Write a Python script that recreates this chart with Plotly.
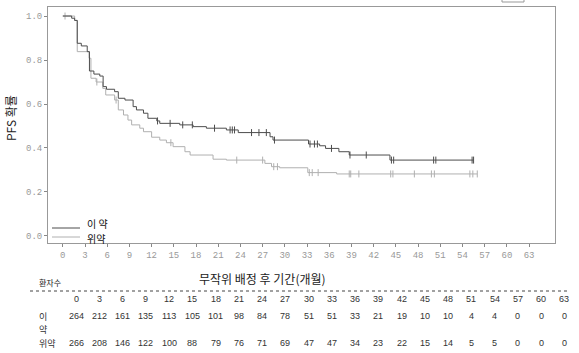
import numpy as np
import plotly.graph_objects as go

# ---- data ----
t_drug = [0, 1.2, 1.6, 1.95, 2.5, 3.3, 3.6, 4.2, 5.0, 5.45, 5.9, 7.0, 7.5, 8.4, 9.5, 9.95, 10.9, 11.5,
          12.7, 13.1, 15.8, 17.6, 19.4, 22.1, 23.7, 28.0, 28.4, 33.2, 34.7, 35.5, 37.3, 38.7, 44.2, 55.5]
s_drug = [1.0, 0.99, 0.98, 0.876, 0.864, 0.838, 0.75, 0.736, 0.727, 0.679, 0.667, 0.656, 0.626, 0.618,
          0.588, 0.573, 0.558, 0.535, 0.523, 0.512, 0.505, 0.497, 0.49, 0.482, 0.47, 0.451, 0.436, 0.418,
          0.41, 0.398, 0.383, 0.368, 0.345, 0.345]
t_plac = [0, 1.6, 1.95, 3.55, 3.8, 4.5, 5.4, 5.8, 7.0, 7.5, 8.2, 8.8, 9.3, 10.4, 10.9, 12.0, 13.1, 14.0,
          14.9, 16.5, 17.2, 20.3, 22.1, 27.3, 28.2, 29.3, 33.1, 37.0, 56.0]
s_plac = [1.0, 0.98, 0.838, 0.808, 0.717, 0.70, 0.671, 0.641, 0.618, 0.573, 0.55, 0.527, 0.505, 0.49,
          0.474, 0.449, 0.436, 0.424, 0.406, 0.383, 0.368, 0.349, 0.345, 0.33, 0.315, 0.31, 0.288, 0.282, 0.282]
cens_drug = [12.8, 14.5, 16.2, 17.5, 20.5, 22.6, 22.9, 23.2, 25.5, 26.5, 27.5, 28.6, 33.4, 34.0, 34.4,
             36.3, 38.8, 41.0, 44.4, 44.7, 50.1, 50.4, 55.3, 55.5]
cens_plac = [0.3, 4.6, 7.2, 14.6, 23.5, 27.0, 28.5, 29.0, 33.3, 33.7, 34.5, 38.7, 38.9, 40.0, 44.3,
             44.6, 47.5, 49.8, 50.2, 55.0, 55.4, 56.0]

months = list(range(0, 64, 3))
risk_drug = [264, 212, 161, 135, 113, 105, 101, 98, 84, 78, 51, 51, 33, 21, 19, 10, 10, 4, 4, 0, 0, 0]
risk_plac = [266, 208, 146, 122, 100, 88, 79, 76, 71, 69, 47, 47, 34, 23, 22, 15, 14, 5, 5, 0, 0, 0]

name_drug = "이 약"
name_plac = "위약"
xtitle = "무작위 배정 후 기간(개월)"
ytitle = "PFS 확률"

DARK = "#4d4d4d"
LIGHT = "#b0b0b0"

W, H = 579, 353
L, R, T, B = 48, 555, 7, 243


def px(x):
    return (x - L) / (R - L)


def py(y):
    return (B - y) / (B - T)


def step_val(ts, ss, t):
    i = np.searchsorted(ts, t, side="right") - 1
    return ss[max(i, 0)]


fig = go.Figure()
for ts, ss, cs, col in [(t_plac, s_plac, cens_plac, LIGHT), (t_drug, s_drug, cens_drug, DARK)]:
    fig.add_trace(go.Scatter(x=ts, y=ss, mode="lines", line=dict(color=col, width=1, shape="hv"),
                             showlegend=False, hoverinfo="skip"))
    fig.add_trace(go.Scatter(x=cs, y=[step_val(ts, ss, c) for c in cs], mode="markers",
                             marker=dict(symbol="line-ns-open", size=5, color=col,
                                         line=dict(color=col, width=1)),
                             showlegend=False, hoverinfo="skip"))

mono = "Liberation Mono, Courier New, monospace"
fig.update_layout(
    width=W, height=H, margin=dict(l=L, r=W - R, t=T, b=H - B),
    paper_bgcolor="white", plot_bgcolor="white",
    font=dict(family="Noto Sans CJK KR, Liberation Sans, sans-serif", color="#222"),
    xaxis=dict(range=[-2, 66.5], tickvals=months, ticks="outside", ticklen=3, tickcolor="#888",
               tickfont=dict(family=mono, size=9, color="#999"), showgrid=False, zeroline=False,
               showline=True, mirror=True, linecolor="#999", linewidth=1),
    yaxis=dict(range=[-0.032, 1.041], tickvals=[0, 0.2, 0.4, 0.6, 0.8, 1.0], tickformat=".1f",
               ticks="outside", ticklen=3, tickcolor="#888",
               tickfont=dict(family=mono, size=9, color="#999"), showgrid=False, zeroline=False,
               showline=True, mirror=True, linecolor="#999", linewidth=1),
)

ann = []
shapes = []
# y title
ann.append(dict(x=px(11), y=py(118), xref="paper", yref="paper", text=ytitle, textangle=-90,
                xanchor="center", yanchor="middle",
                showarrow=False, font=dict(size=12, color="#222")))
# legend
for yy, ty, col, name in [(228, 223, DARK, name_drug), (237, 238, LIGHT, name_plac)]:
    shapes.append(dict(type="line", xref="paper", yref="paper", x0=px(52), x1=px(80), y0=py(yy), y1=py(yy),
                       line=dict(color=col, width=1)))
    ann.append(dict(x=px(85), y=py(ty), xref="paper", yref="paper", text=name, showarrow=False,
                    xanchor="left", yanchor="middle", font=dict(size=10, color="#111")))
# x title
ann.append(dict(x=px(262), y=py(278), xref="paper", yref="paper", text=xtitle, showarrow=False,
                xanchor="center", yanchor="middle", font=dict(size=12, color="#222")))
# risk table header
ann.append(dict(x=px(37), y=py(282), xref="paper", yref="paper", text="환자수", showarrow=False,
                xanchor="left", yanchor="middle", font=dict(size=8, color="#222")))
shapes.append(dict(type="line", xref="paper", yref="paper", x0=px(30), x1=px(570), y0=py(291), y1=py(291),
                   line=dict(color="#444", width=1, dash="3px,3px")))
tf = dict(family="Liberation Sans, Arial, sans-serif", size=9, color="#333")
for i, m in enumerate(months):
    xx = px(76 + i * 23.25)
    ann.append(dict(x=xx, y=py(299), xref="paper", yref="paper", text=str(m), showarrow=False,
                    xanchor="center", yanchor="middle", font=tf))
    ann.append(dict(x=xx, y=py(316), xref="paper", yref="paper", text=str(risk_drug[i]), showarrow=False,
                    xanchor="center", yanchor="middle", font=tf))
    ann.append(dict(x=xx, y=py(343), xref="paper", yref="paper", text=str(risk_plac[i]), showarrow=False,
                    xanchor="center", yanchor="middle", font=tf))
lf = dict(size=9, color="#333")
ann.append(dict(x=px(37), y=py(316), xref="paper", yref="paper", text=name_drug.split(" ")[0],
                showarrow=False, xanchor="left", yanchor="middle", font=lf))
ann.append(dict(x=px(37), y=py(329), xref="paper", yref="paper", text=name_drug.split(" ")[1],
                showarrow=False, xanchor="left", yanchor="middle", font=lf))
ann.append(dict(x=px(37), y=py(343), xref="paper", yref="paper", text=name_plac,
                showarrow=False, xanchor="left", yanchor="middle", font=lf))
# small clipped box at top right
shapes.append(dict(type="rect", xref="paper", yref="paper", x0=px(502), x1=px(524), y0=py(2), y1=py(-5),
                   line=dict(color="#999", width=1)))

fig.update_layout(annotations=ann, shapes=shapes)
fig.write_html("out.html")
